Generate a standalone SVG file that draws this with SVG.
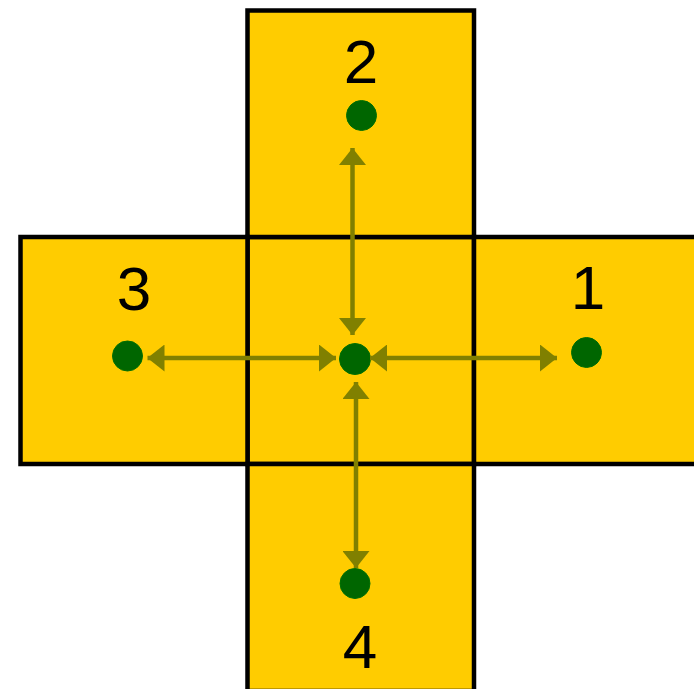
<svg xmlns="http://www.w3.org/2000/svg" width="694" height="689" viewBox="0 0 694 689">
<defs>
<style>
.sq{fill:#FFCC00;stroke:#000;stroke-width:4.5}
.dot{fill:#006600;stroke:#007000;stroke-width:1}
.lbl{font-family:"Liberation Sans",Arial,sans-serif;font-size:62px;fill:#000;text-anchor:middle}
.conn{stroke:#808000;stroke-width:4.5;fill:none;marker-start:url(#ah);marker-end:url(#ah)}
</style>
<marker id="ah" viewBox="0 0 17 27" refX="17" refY="13.5" markerWidth="17" markerHeight="27" markerUnits="userSpaceOnUse" orient="auto-start-reverse">
<path d="M0,0 L17,13.5 L0,27 Z" fill="#808000"/>
</marker>
</defs>
<g id="center"><rect class="sq" x="247.5" y="237" width="226.5" height="227"/></g>
<g id="square2"><rect class="sq" x="247.5" y="10.5" width="226.5" height="226.5"/><text class="lbl" x="361" y="83">2</text><circle class="dot" cx="361.5" cy="115.5" r="15"/></g>
<g id="square3"><rect class="sq" x="20.5" y="237" width="227" height="227"/><text class="lbl" x="134" y="310">3</text><circle class="dot" cx="127.5" cy="356" r="15"/></g>
<g id="square1"><rect class="sq" x="474" y="237" width="227" height="227"/><text class="lbl" x="588" y="309">1</text><circle class="dot" cx="586.5" cy="352.5" r="15"/></g>
<g id="square4"><rect class="sq" x="247.5" y="464" width="226.5" height="227"/><text class="lbl" x="360" y="668">4</text><circle class="dot" cx="355" cy="583.5" r="15"/></g>
<g id="centerdot"><circle class="dot" cx="355" cy="359" r="15.5"/></g>
<g id="connectors">
<line class="conn" x1="352.5" y1="335" x2="352.5" y2="148"/>
<line class="conn" x1="356" y1="382" x2="356" y2="568"/>
<line class="conn" x1="336" y1="358" x2="147.5" y2="358"/>
<line class="conn" x1="370" y1="358" x2="557" y2="358"/>
</g>
</svg>
